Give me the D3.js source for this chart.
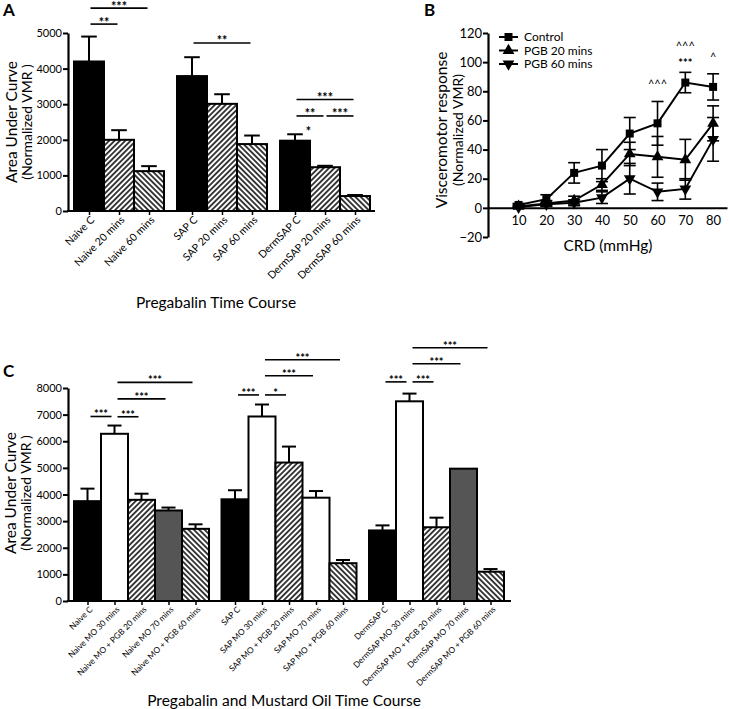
<!DOCTYPE html>
<html><head><meta charset="utf-8">
<script src="https://cdn.jsdelivr.net/npm/d3@7"></script>
<style>
body{margin:0;background:#fff}
svg{display:block}
text{font-family:Lato,"Open Sans",sans-serif;fill:#000}
</style>
</head><body>
<svg id="c" width="729" height="709"></svg>
<script>
// ---------- Panel A data ----------
const aCategories = ["Naive C","Naive 20 mins","Naive 60 mins","SAP C","SAP 20 mins","SAP 60 mins","DermSAP C","DermSAP 20 mins","DermSAP 60 mins"];
const aGroup = [0,0,0,1,1,1,2,2,2];
const aKind = ["C","P20","P60","C","P20","P60","C","P20","P60"];
const aValues = [4200,2000,1120,3790,3010,1880,1975,1230,420];
const aErrors = [700,270,140,530,270,240,180,40,30];
const aTicks = [0,1000,2000,3000,4000,5000];
const aSigFrom = ["Naive C","Naive C","SAP C","DermSAP C","DermSAP C","DermSAP 20 mins","DermSAP C"];
const aSigTo = ["Naive 60 mins","Naive 20 mins","SAP 60 mins","DermSAP 60 mins","DermSAP 20 mins","DermSAP 60 mins","DermSAP 20 mins"];
const aSigLevel = [5700,5250,4720,3130,2670,2670,2180];
const aSigLabel = ["***","**","**","***","**","***","*"];
const aSigLine = [true,true,true,true,true,true,false];

// ---------- Panel B data ----------
const bPressure = [10,20,30,40,50,60,70,80];
const bSeriesNames = ["Control","PGB 20 mins","PGB 60 mins"];
const bControl = [2,6,24,29,51,58,86,83];
const bControlErr = [1,3,7,11,11,15,7,9];
const bPGB20 = [1,3,5,16,37,35,33,58];
const bPGB20Err = [1,2,3,4,8,14,14,12];
const bPGB60 = [0.5,2.5,3.5,7,20,11,13,47];
const bPGB60Err = [0.5,1,2,4,10.5,6,7,15];
const bYTicks = [-20,0,20,40,60,80,100,120];
const bAnnotX = [60,70,70,80];
const bAnnotLevel = [82,108,99,101];
const bAnnotLabel = ["^^^","^^^","***","^"];

// ---------- Panel C data ----------
const cCategories = ["Naive C","Naive MO 30 mins","Naive MO + PGB 20 mins","Naive MO 70 mins","Naive MO + PGB 60 mins",
  "SAP C","SAP MO 30 mins","SAP MO + PGB 20 mins","SAP MO 70 mins","SAP MO + PGB 60 mins",
  "DermSAP C","DermSAP MO 30 mins","DermSAP MO + PGB 20 mins","DermSAP MO 70 mins","DermSAP MO + PGB 60 mins"];
const cGroup = [0,0,0,0,0,1,1,1,1,1,2,2,2,2,2];
const cKind = ["C","MO","P20","MO70","P60","C","MO","P20","MO","P60","C","MO","P20","MO70","P60"];
const cValues = [3750,6280,3800,3400,2710,3820,6930,5200,3880,1420,2650,7500,2770,4970,1100];
const cErrors = [470,310,230,110,170,340,450,600,250,120,190,290,360,0,100];
const cTicks = [0,1000,2000,3000,4000,5000,6000,7000,8000];
const cSigFrom = ["Naive C","Naive MO 30 mins","Naive MO 30 mins","Naive MO 30 mins",
  "SAP C","SAP MO 30 mins","SAP MO 30 mins","SAP MO 30 mins",
  "DermSAP C","DermSAP MO 30 mins","DermSAP MO 30 mins","DermSAP MO 30 mins"];
const cSigTo = ["Naive MO 30 mins","Naive MO + PGB 20 mins","Naive MO 70 mins","Naive MO + PGB 60 mins",
  "SAP MO 30 mins","SAP MO + PGB 20 mins","SAP MO 70 mins","SAP MO + PGB 60 mins",
  "DermSAP MO 30 mins","DermSAP MO + PGB 20 mins","DermSAP MO 70 mins","DermSAP MO + PGB 60 mins"];
const cSigLevel = [6930,6920,7590,8210,7740,7740,8460,9060,8230,8230,8910,9510];
const cSigLabel = ["***","***","***","***","***","*","***","***","***","***","***","***"];

// ---------- drawing ----------
const svg = d3.select("#c");
const defs = svg.append("defs");
function hatch(id, angle){
  const s = 3.8;
  const p = defs.append("pattern").attr("id",id).attr("patternUnits","userSpaceOnUse")
    .attr("width",s).attr("height",s).attr("patternTransform",`rotate(${angle})`);
  p.append("rect").attr("width",s).attr("height",s).attr("fill","#fff");
  p.append("line").attr("x1",s/2).attr("x2",s/2).attr("y1",0).attr("y2",s).attr("stroke","#000").attr("stroke-width",1.5);
}
hatch("hF",45); hatch("hB",-45);
const fillOf = {C:"#000", P20:"url(#hF)", P60:"url(#hB)", MO:"#fff", MO70:"#555"};

function panelLabel(t,x,y){
  svg.append("text").attr("x",x).attr("y",y).attr("font-size",17).attr("font-weight","bold").text(t);
}

function barPanel(o){
  const g = svg.append("g");
  const y = d3.scaleLinear().domain([0,o.yMax]).range(o.yRange);
  const nG = d3.max(o.group)+1;
  const outer = d3.scaleBand().domain(d3.range(nG)).range(o.barRange).paddingInner(o.gapFrac);
  const slot = o.group.map((gi,i)=> i - o.group.indexOf(gi));
  const perG = d3.max(slot)+1;
  const inner = d3.scaleBand().domain(d3.range(perG)).range([0,outer.bandwidth()]);
  const bw = inner.bandwidth();
  const left = o.cats.map((c,i)=> outer(o.group[i]) + inner(slot[i]));
  const xC = d3.scaleOrdinal().domain(o.cats).range(left.map(l=>l+bw/2));

  // bars
  g.selectAll("rect.bar").data(o.cats).join("rect")
    .attr("x",(c,i)=>left[i]).attr("width",bw)
    .attr("y",(c,i)=>y(o.values[i])).attr("height",(c,i)=>y(0)-y(o.values[i]))
    .attr("fill",(c,i)=>fillOf[o.kind[i]]).attr("stroke","#000").attr("stroke-width",2);
  // error bars (upper)
  const eb = g.selectAll("g.eb").data(o.cats.filter((c,i)=>o.errors[i]>0)).join("g");
  eb.append("line").attr("x1",c=>xC(c)).attr("x2",c=>xC(c))
    .attr("y1",c=>y(o.values[o.cats.indexOf(c)])).attr("y2",c=>{const i=o.cats.indexOf(c);return y(o.values[i]+o.errors[i]);})
    .attr("stroke","#000").attr("stroke-width",2);
  eb.append("line").attr("x1",c=>xC(c)-bw*0.26).attr("x2",c=>xC(c)+bw*0.26)
    .attr("y1",c=>{const i=o.cats.indexOf(c);return y(o.values[i]+o.errors[i]);})
    .attr("y2",c=>{const i=o.cats.indexOf(c);return y(o.values[i]+o.errors[i]);})
    .attr("stroke","#000").attr("stroke-width",2);

  // y axis
  const ya = g.append("g").attr("transform",`translate(${o.axisX},0)`)
    .call(d3.axisLeft(y).tickValues(o.ticks).tickSize(5).tickSizeOuter(0).tickPadding(1).tickFormat(d3.format("d")));
  ya.select(".domain").attr("stroke-width",2.2);
  ya.selectAll(".tick line").attr("stroke-width",2);
  ya.selectAll(".tick text").attr("font-size",o.tickFont).attr("font-family","Lato").attr("fill","#000");

  // x axis
  g.append("line").attr("x1",o.axisX-1).attr("x2",o.axisEnd).attr("y1",y(0)).attr("y2",y(0)).attr("stroke","#000").attr("stroke-width",2.2);
  const xa = g.append("g").attr("transform",`translate(0,${y(0)})`)
    .call(d3.axisBottom(xC).tickSize(4).tickSizeOuter(0));
  xa.select(".domain").remove();
  xa.selectAll(".tick line").attr("stroke-width",1.5);
  xa.selectAll(".tick text").attr("font-size",o.labelFont).attr("font-family","Lato").attr("fill","#000")
    .attr("text-anchor","end").attr("x",0).attr("y",0).attr("dy","0.35em")
    .attr("transform",`translate(${o.lblDx},${o.lblDy}) rotate(-45)`);

  // significance
  o.sigFrom.forEach((f,k)=>{
    const x1 = xC(f), x2 = xC(o.sigTo[k]);
    const ly = y(o.sigLevel[k]);
    const hasLine = o.sigLine ? o.sigLine[k] : true;
    if(hasLine){
      g.append("line").attr("x1",x1+o.inset).attr("x2",x2-o.inset).attr("y1",ly).attr("y2",ly)
        .attr("stroke","#000").attr("stroke-width",1.6);
      g.append("text").attr("x",(x1+x2)/2).attr("y",ly+o.starDy).attr("text-anchor","middle")
        .attr("font-size",o.starFont).attr("font-weight","bold").attr("font-family","DejaVu Sans").text(o.sigLabel[k]);
    } else {
      g.append("text").attr("x",x1+bw*0.45).attr("y",ly+o.starDy).attr("text-anchor","middle")
        .attr("font-size",o.starFont).attr("font-weight","bold").attr("font-family","DejaVu Sans").text(o.sigLabel[k]);
    }
  });

  // axis titles
  const cy = o.yTitleY;
  g.append("text").attr("transform",`translate(${o.yTitleX1},${cy}) rotate(-90)`).attr("text-anchor","middle")
    .attr("font-size",15.5).text("Area Under Curve");
  g.append("text").attr("transform",`translate(${o.yTitleX2},${cy}) rotate(-90)`).attr("text-anchor","middle")
    .attr("font-size",14).text("(Normalized VMR )");
  g.append("text").attr("x",o.xTitleX).attr("y",o.xTitleY).attr("text-anchor","middle")
    .attr("font-size",15.5).text(o.xTitle);
}

// Panel A
panelLabel("A",3,16);
barPanel({cats:aCategories, group:aGroup, kind:aKind, values:aValues, errors:aErrors, ticks:aTicks,
  yMax:5000, yRange:[211,33], barRange:[74,370], gapFrac:13/103, axisX:68, axisEnd:375,
  tickFont:11, labelFont:10.5, lblDx:3, lblDy:7,
  sigFrom:aSigFrom, sigTo:aSigTo, sigLevel:aSigLevel, sigLabel:aSigLabel, sigLine:aSigLine,
  inset:1.5, starFont:12.5, starDy:2.5,
  yTitleX1:17, yTitleX2:32, yTitleY:122, xTitle:"Pregabalin Time Course", xTitleX:216, xTitleY:308});

// Panel C
panelLabel("C",3,377);
barPanel({cats:cCategories, group:cGroup, kind:cKind, values:cValues, errors:cErrors, ticks:cTicks,
  yMax:8000, yRange:[601,388], barRange:[74,504], gapFrac:12.5/147.5, axisX:68, axisEnd:511,
  tickFont:11, labelFont:8.3, lblDx:3, lblDy:7,
  sigFrom:cSigFrom, sigTo:cSigTo, sigLevel:cSigLevel, sigLabel:cSigLabel,
  inset:3, starFont:11, starDy:2,
  yTitleX1:16, yTitleX2:31, yTitleY:493, xTitle:"Pregabalin and Mustard Oil Time Course", xTitleX:284, xTitleY:706});

// Panel B
panelLabel("B",424,16);
(function(){
  const g = svg.append("g");
  const x = d3.scaleLinear().domain([-1,85]).range([488,727]);
  const y = d3.scaleLinear().domain([-20,120]).range([237,33]);
  const series = [
    {name:bSeriesNames[0], v:bControl, e:bControlErr, sym:d3.symbolSquare, size:64, rot:0},
    {name:bSeriesNames[1], v:bPGB20, e:bPGB20Err, sym:d3.symbolTriangle, size:60, rot:0},
    {name:bSeriesNames[2], v:bPGB60, e:bPGB60Err, sym:d3.symbolTriangle, size:60, rot:180}
  ];
  // axes
  const ya = g.append("g").attr("transform","translate(488,0)")
    .call(d3.axisLeft(y).tickValues(bYTicks).tickSize(5).tickSizeOuter(0).tickPadding(1));
  ya.select(".domain").attr("stroke-width",2.2);
  ya.selectAll(".tick line").attr("stroke-width",2);
  ya.selectAll(".tick text").attr("font-size",13).attr("font-family","Lato").attr("fill","#000");
  const xa = g.append("g").attr("transform",`translate(0,${y(0)})`)
    .call(d3.axisBottom(x).tickValues(bPressure).tickSize(0).tickSizeOuter(0).tickPadding(8));
  xa.select(".domain").attr("stroke-width",2);
  xa.selectAll(".tick text").attr("font-size",13).attr("font-family","Lato").attr("fill","#000");

  const line = d3.line().x((d,i)=>x(bPressure[i])).y(d=>y(d));
  series.forEach(s=>{
    const sg = g.append("g");
    // error bars
    bPressure.forEach((p,i)=>{
      const lo=y(s.v[i]-s.e[i]), hi=y(s.v[i]+s.e[i]), cx=x(p);
      sg.append("line").attr("x1",cx).attr("x2",cx).attr("y1",lo).attr("y2",hi).attr("stroke","#000").attr("stroke-width",1.6);
      [lo,hi].forEach(yy=>sg.append("line").attr("x1",cx-6).attr("x2",cx+6).attr("y1",yy).attr("y2",yy).attr("stroke","#000").attr("stroke-width",1.6));
    });
    sg.append("path").datum(s.v).attr("d",line).attr("fill","none").attr("stroke","#000").attr("stroke-width",2);
    sg.selectAll("path.m").data(s.v).join("path").attr("class","m")
      .attr("d",d3.symbol().type(s.sym).size(s.size))
      .attr("transform",(d,i)=>`translate(${x(bPressure[i])},${y(d)}) rotate(${s.rot})`).attr("fill","#000");
  });
  // annotations
  bAnnotX.forEach((p,k)=>{
    const caret = bAnnotLabel[k][0]==="^";
    g.append("text").attr("x",x(p)).attr("y",y(bAnnotLevel[k])+(caret?0:3)).attr("text-anchor","middle")
      .attr("font-size",11).attr("font-weight",caret?"normal":"bold")
      .attr("font-family",caret?"Lato":"DejaVu Sans").text(bAnnotLabel[k]);
  });
  // legend
  const lg = g.append("g");
  series.forEach((s,k)=>{
    const ly = 37 + k*13.5;
    lg.append("line").attr("x1",499).attr("x2",518).attr("y1",ly).attr("y2",ly).attr("stroke","#000").attr("stroke-width",2);
    lg.append("path").attr("d",d3.symbol().type(s.sym).size(s.size))
      .attr("transform",`translate(508.5,${ly}) rotate(${s.rot})`).attr("fill","#000");
    lg.append("text").attr("x",524).attr("y",ly).attr("dy","0.35em").attr("font-size",12).text(s.name);
  });
  // titles
  g.append("text").attr("transform","translate(447,130) rotate(-90)").attr("text-anchor","middle").attr("font-size",15.5).text("Visceromotor response");
  g.append("text").attr("transform","translate(463,130) rotate(-90)").attr("text-anchor","middle").attr("font-size",14).text("(Normalized VMR)");
  g.append("text").attr("x",608).attr("y",251).attr("text-anchor","middle").attr("font-size",15.5).text("CRD (mmHg)");
})();
</script>
</body></html>
